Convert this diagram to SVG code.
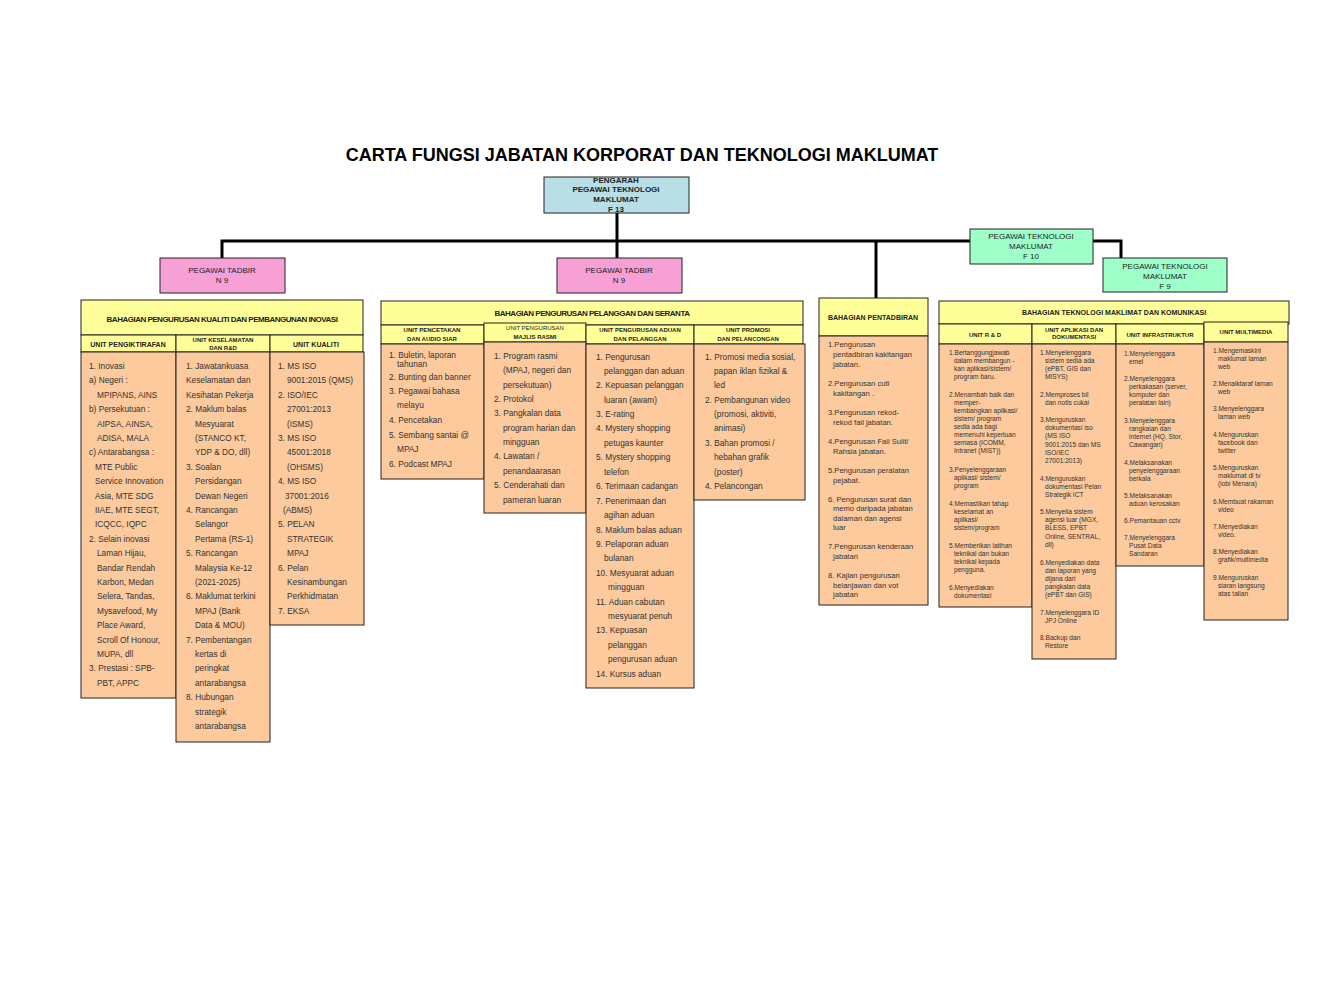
<svg xmlns="http://www.w3.org/2000/svg" width="1344" height="1008" viewBox="0 0 1344 1008">
<style>
text{font-family:"Liberation Sans",Arial,sans-serif;fill:#222}
.t{font-size:18px;font-weight:bold;fill:#000}
.h{font-size:8px;text-anchor:middle}
.hb{font-size:8px;font-weight:bold;text-anchor:middle}
.u{font-size:7px;font-weight:bold;text-anchor:middle}
.us{font-size:6px;font-weight:bold;text-anchor:middle}
.c{font-size:8.3px;fill:#333}
.s{font-size:7.6px;fill:#333}
.x{font-size:6.6px;fill:#333}
.b{stroke:#222;stroke-width:1}
.yel{fill:#ffff99}
.pch{fill:#fcca9c}
.pink{fill:#f7a0d5}
.grn{fill:#9effc8}
.blu{fill:#b8dee6}
.ln{stroke:#000;stroke-width:3;fill:none}
</style>
<rect width="1344" height="1008" fill="#fff"/>
<text class="t" x="642" y="161" text-anchor="middle">CARTA FUNGSI JABATAN  KORPORAT DAN  TEKNOLOGI MAKLUMAT</text>

<g id="connectors">
<path class="ln" d="M617 213V258M222 258V241H970M876 241V298M1093 241H1121V258"/>
</g>

<g id="pengarah"><rect class="b blu" x="544" y="177" width="145" height="36"/>
<text class="h" font-weight="bold"><tspan x="616" y="183">PENGARAH</tspan><tspan x="616" y="192">PEGAWAI TEKNOLOGI</tspan><tspan x="616" y="202">MAKLUMAT</tspan><tspan x="616" y="212">F 13</tspan></text></g>
<g id="pt-left"><rect class="b pink" x="160" y="258" width="125" height="35"/>
<text class="h"><tspan x="222" y="273">PEGAWAI TADBIR</tspan><tspan x="222" y="283">N 9</tspan></text></g>
<g id="pt-mid"><rect class="b pink" x="557" y="258" width="125" height="35"/>
<text class="h"><tspan x="619" y="273">PEGAWAI TADBIR</tspan><tspan x="619" y="283">N 9</tspan></text></g>
<g id="f10"><rect class="b grn" x="970" y="229" width="123" height="35"/>
<text class="h"><tspan x="1031" y="239">PEGAWAI TEKNOLOGI</tspan><tspan x="1031" y="249">MAKLUMAT</tspan><tspan x="1031" y="259">F 10</tspan></text></g>
<g id="f9"><rect class="b grn" x="1103" y="258" width="124" height="34"/>
<text class="h"><tspan x="1165" y="269">PEGAWAI TEKNOLOGI</tspan><tspan x="1165" y="279">MAKLUMAT</tspan><tspan x="1165" y="289">F 9</tspan></text></g>

<g id="bahagian-kualiti">
<rect class="b yel" x="81" y="300" width="282" height="35"/>
<text class="hb" x="222" y="322" letter-spacing="-0.5">BAHAGIAN PENGURUSAN KUALITI DAN PEMBANGUNAN INOVASI</text>
<rect class="b yel" x="81" y="335" width="95" height="17"/><rect class="b yel" x="176" y="335" width="94" height="17"/><rect class="b yel" x="270" y="335" width="93" height="17"/>
<text class="u" x="128" y="347">UNIT PENGIKTIRAFAN</text>
<text class="us"><tspan x="223" y="342">UNIT KESELAMATAN</tspan><tspan x="223" y="350">DAN R&amp;D</tspan></text>
<text class="u" x="316" y="347">UNIT KUALITI</text>
<rect class="b pch" x="81" y="352" width="95" height="346"/>
<rect class="b pch" x="176" y="352" width="94" height="390"/>
<rect class="b pch" x="270" y="352" width="94" height="273"/>
<text class="c"><tspan x="89" y="369">1. Inovasi</tspan><tspan x="89" y="383">a) Negeri :</tspan><tspan x="97" y="398">MPIPANS,  AINS</tspan><tspan x="89" y="412">b) Persekutuan  :</tspan><tspan x="97" y="427">AIPSA, AINSA,</tspan><tspan x="97" y="441">ADISA, MALA</tspan><tspan x="89" y="455">c) Antarabangsa  :</tspan><tspan x="95" y="470">MTE Public</tspan><tspan x="95" y="484">Service Innovation</tspan><tspan x="95" y="499">Asia, MTE SDG</tspan><tspan x="95" y="513">IIAE,  MTE SEGT,</tspan><tspan x="95" y="527">ICQCC, IQPC</tspan><tspan x="89" y="542">2. Selain inovasi</tspan><tspan x="97" y="556">Laman Hijau,</tspan><tspan x="97" y="571">Bandar  Rendah</tspan><tspan x="97" y="585">Karbon,  Medan</tspan><tspan x="97" y="599">Selera, Tandas,</tspan><tspan x="97" y="614">Mysavefood,  My</tspan><tspan x="97" y="628">Place Award,</tspan><tspan x="97" y="643">Scroll  Of  Honour,</tspan><tspan x="97" y="657">MUPA, dll</tspan><tspan x="89" y="671">3. Prestasi : SPB-</tspan><tspan x="97" y="686">PBT, APPC</tspan></text>
<text class="c"><tspan x="186" y="369">1. Jawatankuasa</tspan><tspan x="186" y="383">Keselamatan  dan</tspan><tspan x="186" y="398">Kesihatan  Pekerja</tspan><tspan x="186" y="412">2. Maklum balas</tspan><tspan x="195" y="427">Mesyuarat</tspan><tspan x="195" y="441">(STANCO KT,</tspan><tspan x="195" y="455">YDP &amp; DO, dll)</tspan><tspan x="186" y="470">3. Soalan</tspan><tspan x="195" y="484">Persidangan</tspan><tspan x="195" y="499">Dewan Negeri</tspan><tspan x="186" y="513">4. Rancangan</tspan><tspan x="195" y="527">Selangor</tspan><tspan x="195" y="542">Pertama (RS-1)</tspan><tspan x="186" y="556">5. Rancangan</tspan><tspan x="195" y="571">Malaysia Ke-12</tspan><tspan x="195" y="585">(2021-2025)</tspan><tspan x="186" y="599">6. Maklumat terkini</tspan><tspan x="195" y="614">MPAJ (Bank</tspan><tspan x="195" y="628">Data &amp; MOU)</tspan><tspan x="186" y="643">7. Pembentangan</tspan><tspan x="195" y="657">kertas  di</tspan><tspan x="195" y="671">peringkat</tspan><tspan x="195" y="686">antarabangsa</tspan><tspan x="186" y="700">8. Hubungan</tspan><tspan x="195" y="715">strategik</tspan><tspan x="195" y="729">antarabangsa</tspan></text>
<text class="c"><tspan x="278" y="369">1. MS ISO</tspan><tspan x="287" y="383">9001:2015  (QMS)</tspan><tspan x="278" y="398">2. ISO/IEC</tspan><tspan x="287" y="412">27001:2013</tspan><tspan x="287" y="427">(ISMS)</tspan><tspan x="278" y="441">3. MS ISO</tspan><tspan x="287" y="455">45001:2018</tspan><tspan x="287" y="470">(OHSMS)</tspan><tspan x="278" y="484">4. MS ISO</tspan><tspan x="285" y="499">37001:2016</tspan><tspan x="283" y="513">(ABMS)</tspan><tspan x="278" y="527">5. PELAN</tspan><tspan x="287" y="542">STRATEGIK</tspan><tspan x="287" y="556">MPAJ</tspan><tspan x="278" y="571">6. Pelan</tspan><tspan x="287" y="585">Kesinambungan</tspan><tspan x="287" y="599">Perkhidmatan</tspan><tspan x="278" y="614">7. EKSA</tspan></text>
</g>

<g id="bahagian-pelanggan">
<rect class="b yel" x="381" y="301" width="422" height="24"/>
<text class="hb" x="592" y="316" letter-spacing="-0.5">BAHAGIAN PENGURUSAN PELANGGAN DAN SERANTA</text>
<rect class="b yel" x="381" y="325" width="103" height="19"/><rect class="b yel" x="484" y="323" width="102" height="19"/><rect class="b yel" x="586" y="325" width="108" height="19"/><rect class="b yel" x="694" y="325" width="109" height="19"/>
<text class="us"><tspan x="432" y="332">UNIT  PENCETAKAN</tspan><tspan x="432" y="341">DAN AUDIO  SIAR</tspan></text>
<text class="us"><tspan x="535" y="330" font-weight="normal">UNIT PENGURUSAN</tspan><tspan x="535" y="339">MAJLIS  RASMI</tspan></text>
<text class="us"><tspan x="640" y="332">UNIT  PENGURUSAN ADUAN</tspan><tspan x="640" y="341">DAN PELANGGAN</tspan></text>
<text class="us"><tspan x="748" y="332">UNIT  PROMOSI</tspan><tspan x="748" y="341">DAN PELANCONGAN</tspan></text>
<rect class="b pch" x="381" y="344" width="103" height="135"/>
<rect class="b pch" x="484" y="342" width="102" height="171"/>
<rect class="b pch" x="586" y="344" width="108" height="344"/>
<rect class="b pch" x="694" y="344" width="111" height="156"/>
<text class="c"><tspan x="389" y="358">1. Buletin,  laporan</tspan><tspan x="397" y="367">tahunan</tspan><tspan x="389" y="380">2. Bunting dan banner</tspan><tspan x="389" y="394">3. Pegawai  bahasa</tspan><tspan x="397" y="408">melayu</tspan><tspan x="389" y="423">4. Pencetakan</tspan><tspan x="389" y="438">5. Sembang santai  @</tspan><tspan x="397" y="452">MPAJ</tspan><tspan x="389" y="467">6. Podcast  MPAJ</tspan></text>
<text class="c"><tspan x="494" y="359">1. Program rasmi</tspan><tspan x="503" y="373">(MPAJ, negeri  dan</tspan><tspan x="503" y="388">persekutuan)</tspan><tspan x="494" y="402">2. Protokol</tspan><tspan x="494" y="416">3. Pangkalan  data</tspan><tspan x="503" y="431">program  harian dan</tspan><tspan x="503" y="445">mingguan</tspan><tspan x="494" y="459">4. Lawatan  /</tspan><tspan x="503" y="474">penandaarasan</tspan><tspan x="494" y="488">5. Cenderahati  dan</tspan><tspan x="503" y="503">pameran  luaran</tspan></text>
<text class="c"><tspan x="596" y="360">1. Pengurusan</tspan><tspan x="604" y="374">pelanggan   dan aduan</tspan><tspan x="596" y="388">2. Kepuasan  pelanggan</tspan><tspan x="604" y="403">luaran (awam)</tspan><tspan x="596" y="417">3. E-rating</tspan><tspan x="596" y="431">4. Mystery shopping</tspan><tspan x="604" y="446">petugas  kaunter</tspan><tspan x="596" y="460">5. Mystery shopping</tspan><tspan x="604" y="475">telefon</tspan><tspan x="596" y="489">6. Terimaan cadangan</tspan><tspan x="596" y="504">7. Penerimaan  dan</tspan><tspan x="604" y="518">agihan  aduan</tspan><tspan x="596" y="533">8. Maklum balas  aduan</tspan><tspan x="596" y="547">9. Pelaporan  aduan</tspan><tspan x="604" y="561">bulanan</tspan><tspan x="596" y="576">10. Mesyuarat  aduan</tspan><tspan x="608" y="590">mingguan</tspan><tspan x="596" y="605">11. Aduan  cabutan</tspan><tspan x="608" y="619">mesyuarat  penuh</tspan><tspan x="596" y="633">13. Kepuasan</tspan><tspan x="608" y="648">pelanggan</tspan><tspan x="608" y="662">pengurusan   aduan</tspan><tspan x="596" y="677">14. Kursus aduan</tspan></text>
<text class="c"><tspan x="705" y="360">1. Promosi media  sosial,</tspan><tspan x="714" y="374">papan  iklan fizikal &amp;</tspan><tspan x="714" y="388">led</tspan><tspan x="705" y="403">2. Pembangunan   video</tspan><tspan x="714" y="417">(promosi, aktiviti,</tspan><tspan x="714" y="431">animasi)</tspan><tspan x="705" y="446">3. Bahan  promosi  /</tspan><tspan x="714" y="460">hebahan   grafik</tspan><tspan x="714" y="475">(poster)</tspan><tspan x="705" y="489">4. Pelancongan</tspan></text>
</g>

<g id="bahagian-pentadbiran">
<rect class="b yel" x="819" y="298" width="109" height="38"/>
<text class="u" x="873" y="320" font-size="7.5">BAHAGIAN  PENTADBIRAN</text>
<rect class="b pch" x="819" y="336" width="109" height="269"/>
<text class="s"><tspan x="828" y="347">1.Pengurusan</tspan><tspan x="833" y="357">pentadbiran  kakitangan</tspan><tspan x="833" y="367">jabatan.</tspan><tspan x="828" y="386">2.Pengurusan  cuti</tspan><tspan x="833" y="396">kakitangan  .</tspan><tspan x="828" y="415">3.Pengurusan  rekod-</tspan><tspan x="833" y="425">rekod fail jabatan.</tspan><tspan x="828" y="444">4.Pengurusan  Fail Sulit/</tspan><tspan x="833" y="454">Rahsia jabatan.</tspan><tspan x="828" y="473">5.Pengurusan  peralatan</tspan><tspan x="833" y="483">pejabat.</tspan><tspan x="828" y="502">6. Pengurusan  surat dan</tspan><tspan x="833" y="511">memo daripada  jabatan</tspan><tspan x="833" y="521">dalaman  dan agensi</tspan><tspan x="833" y="530">luar</tspan><tspan x="828" y="549">7.Pengurusan  kenderaan</tspan><tspan x="833" y="559">jabatan</tspan><tspan x="828" y="578">8. Kajian  pengurusan</tspan><tspan x="833" y="588">belanjawan  dan vot</tspan><tspan x="833" y="597">jabatan</tspan></text>
</g>

<g id="bahagian-teknologi">
<rect class="b yel" x="939" y="301" width="350" height="23"/>
<text class="u" x="1114" y="315">BAHAGIAN  TEKNOLOGI MAKLIMAT DAN KOMUNIKASI</text>
<rect class="b yel" x="939" y="324" width="93" height="20"/><rect class="b yel" x="1032" y="324" width="84" height="20"/><rect class="b yel" x="1116" y="324" width="88" height="20"/><rect class="b yel" x="1204" y="322" width="84" height="20"/>
<text class="us" x="985" y="337">UNIT  R &amp; D</text>
<text class="us"><tspan x="1074" y="332">UNIT  APLIKASI DAN</tspan><tspan x="1074" y="339">DOKUMENTASI</tspan></text>
<text class="us" x="1160" y="337">UNIT INFRASTRUKTUR</text>
<text class="us" x="1246" y="334">UNIT MULTIMEDIA</text>
<rect class="b pch" x="939" y="344" width="93" height="263"/>
<rect class="b pch" x="1032" y="344" width="84" height="315"/>
<rect class="b pch" x="1116" y="344" width="88" height="222"/>
<rect class="b pch" x="1204" y="342" width="84" height="278"/>
<text class="x"><tspan x="949" y="355">1.Bertanggungjawab</tspan><tspan x="954" y="363">dalam membangun -</tspan><tspan x="954" y="371">kan aplikasi/sistem/</tspan><tspan x="954" y="379">program baru.</tspan><tspan x="949" y="397">2.Menambah baik dan</tspan><tspan x="954" y="405">memper-</tspan><tspan x="954" y="413">kembangkan aplikasi/</tspan><tspan x="954" y="421">sistem/ program</tspan><tspan x="954" y="429">sedia ada bagi</tspan><tspan x="954" y="437">memenuhi keperluan</tspan><tspan x="954" y="445">semasa (ICOMM,</tspan><tspan x="954" y="453">Intranet (MIST))</tspan><tspan x="949" y="472">3.Penyelenggaraan</tspan><tspan x="954" y="480">aplikasi/ sistem/</tspan><tspan x="954" y="488">program</tspan><tspan x="949" y="506">4.Memastikan tahap</tspan><tspan x="954" y="514">keselamat an</tspan><tspan x="954" y="522">aplikasi/</tspan><tspan x="954" y="530">sistem/program</tspan><tspan x="949" y="548">5.Memberikan latihan</tspan><tspan x="954" y="556">teknikal dan bukan</tspan><tspan x="954" y="564">teknikal kepada</tspan><tspan x="954" y="572">pengguna.</tspan><tspan x="949" y="590">6.Menyediakan</tspan><tspan x="954" y="598">dokumentasi</tspan></text>
<text class="x"><tspan x="1040" y="355">1.Menyelenggara</tspan><tspan x="1045" y="363">sistem sedia ada</tspan><tspan x="1045" y="371">(ePBT, GIS dan</tspan><tspan x="1045" y="379">MISYS)</tspan><tspan x="1040" y="397">2.Memproses bil</tspan><tspan x="1045" y="405">dan notis cukai</tspan><tspan x="1040" y="422">3.Menguruskan</tspan><tspan x="1045" y="430">dokumentasi iso</tspan><tspan x="1045" y="438">(MS ISO</tspan><tspan x="1045" y="447">9001:2015 dan MS</tspan><tspan x="1045" y="455">ISO/IEC</tspan><tspan x="1045" y="463">27001:2013)</tspan><tspan x="1040" y="481">4.Menguruskan</tspan><tspan x="1045" y="489">dokumentasi Pelan</tspan><tspan x="1045" y="497">Strategik ICT</tspan><tspan x="1040" y="514">5.Menyelia sistem</tspan><tspan x="1045" y="522">agensi luar (MGX,</tspan><tspan x="1045" y="530">BLESS, EPBT</tspan><tspan x="1045" y="539">Online, SENTRAL,</tspan><tspan x="1045" y="547">dll)</tspan><tspan x="1040" y="565">6.Menyediakan data</tspan><tspan x="1045" y="573">dan laporan yang</tspan><tspan x="1045" y="581">dijana dari</tspan><tspan x="1045" y="589">pangkalan data</tspan><tspan x="1045" y="597">(ePBT dan GIS)</tspan><tspan x="1040" y="615">7.Menyelenggara ID</tspan><tspan x="1045" y="623">JPJ Online</tspan><tspan x="1040" y="640">8.Backup dan</tspan><tspan x="1045" y="648">Restore</tspan></text>
<text class="x"><tspan x="1124" y="356">1.Menyelenggara</tspan><tspan x="1129" y="364">emel</tspan><tspan x="1124" y="381">2.Menyelenggara</tspan><tspan x="1129" y="389">perkakasan (server,</tspan><tspan x="1129" y="397">komputer dan</tspan><tspan x="1129" y="405">peralatan lain)</tspan><tspan x="1124" y="423">3.Menyelenggara</tspan><tspan x="1129" y="431">rangkaian dan</tspan><tspan x="1129" y="439">internet (HQ, Stor,</tspan><tspan x="1129" y="447">Cawangan)</tspan><tspan x="1124" y="465">4.Melaksanakan</tspan><tspan x="1129" y="473">penyelenggaraan</tspan><tspan x="1129" y="481">berkala</tspan><tspan x="1124" y="498">5.Melaksanakan</tspan><tspan x="1129" y="506">aduan kerosakan</tspan><tspan x="1124" y="523">6.Pemantauan cctv</tspan><tspan x="1124" y="540">7.Menyelenggara</tspan><tspan x="1129" y="548">Pusat Data</tspan><tspan x="1129" y="556">Sandaran</tspan></text>
<text class="x"><tspan x="1213" y="353">1.Mengemaskini</tspan><tspan x="1218" y="361">maklumat laman</tspan><tspan x="1218" y="369">web</tspan><tspan x="1213" y="386">2.Menaiktaraf laman</tspan><tspan x="1218" y="394">web</tspan><tspan x="1213" y="411">3.Menyelenggara</tspan><tspan x="1218" y="419">laman web</tspan><tspan x="1213" y="437">4.Menguruskan</tspan><tspan x="1218" y="445">facebook dan</tspan><tspan x="1218" y="453">twitter</tspan><tspan x="1213" y="470">5.Menguruskan</tspan><tspan x="1218" y="478">maklumat di tv</tspan><tspan x="1218" y="486">(lobi Menara)</tspan><tspan x="1213" y="504">6.Membuat rakaman</tspan><tspan x="1218" y="512">video</tspan><tspan x="1213" y="529">7.Menyediakan</tspan><tspan x="1218" y="537">video.</tspan><tspan x="1213" y="554">8.Menyediakan</tspan><tspan x="1218" y="562">grafik/multimedia</tspan><tspan x="1213" y="580">9.Menguruskan</tspan><tspan x="1218" y="588">siaran langsung</tspan><tspan x="1218" y="596">atas talian</tspan></text>
</g>
</svg>
